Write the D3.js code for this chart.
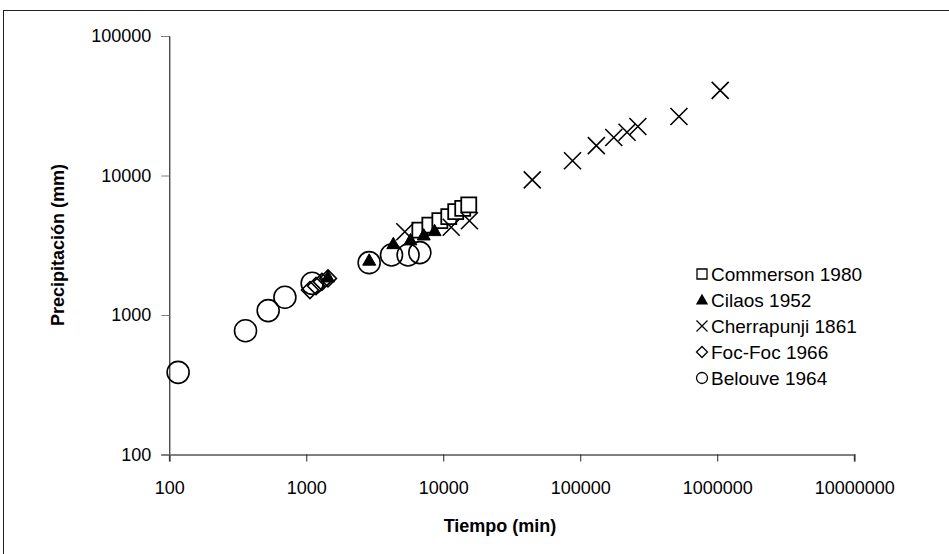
<!DOCTYPE html>
<html><head><meta charset="utf-8">
<script src="https://cdn.jsdelivr.net/npm/d3@7"></script>
<style>body{margin:0;background:#fff;}svg{display:block;font-family:"Liberation Sans",Arial,sans-serif;}</style>
</head><body>
<svg id="c" width="949" height="554"></svg>
<script>
// ---- data ----
const xTicks = [100, 1000, 10000, 100000, 1000000, 10000000];
const yTicks = [100, 1000, 10000, 100000];
const seriesNames = ["Commerson 1980", "Cilaos 1952", "Cherrapunji 1861", "Foc-Foc 1966", "Belouve 1964"];
const commerson = [[6745,4063],[7980,4415],[9440,4742],[10970,5067],[12330,5500],[13870,5820],[15350,6150]];
const cilaos = [[1440,1870],[2880,2467],[4320,3240],[5760,3450],[7200,3740],[8640,4018]];
const cherrapunji = [[5240,3953],[11430,4256],[15520,4742],[44640,9300],[87840,12767],[131040,16369],[175680,18738],[219600,20412],[263520,22454],[525600,26461],[1051200,40768]];
const focfoc = [[1064,1510],[1178,1614],[1300,1727],[1440,1830]];
const belouve = [[116,388],[360,771],[527,1075],[698,1340],[1104,1687],[2877,2372],[4190,2692],[5535,2692],[6745,2800]];
const xTitle = "Tiempo (min)";
const yTitle = "Precipitación (mm)";

const svg = d3.select("#c");
const x = d3.scaleLog().domain([100, 1e7]).range([169.3, 854.2]);
const y = d3.scaleLog().domain([100, 1e5]).range([454.5, 36]);

// outer frame
svg.append("rect").attr("x",3.5).attr("y",10.5).attr("width",1200).attr("height",1200)
  .attr("fill","none").attr("stroke","#222").attr("stroke-width",1);

// axes
const fmt = d => String(d);
const gx = svg.append("g").attr("transform","translate(0,454.5)")
  .call(d3.axisBottom(x).tickValues(xTicks).tickFormat(fmt).tickSize(7).tickPadding(20));
gx.select(".domain").attr("stroke","#808080").attr("stroke-width",2);
gx.selectAll(".tick line").attr("stroke","#222");
gx.selectAll("text").attr("font-size",18).attr("fill","#000");

const gy = svg.append("g").attr("transform","translate(169.3,0)")
  .call(d3.axisLeft(y).tickValues(yTicks).tickFormat(fmt).tickSize(8).tickPadding(10));
gy.select(".domain").attr("stroke","#000").attr("stroke-width",1);
gy.selectAll(".tick line").attr("stroke","#808080");
gy.selectAll("text").attr("font-size",18).attr("fill","#000");
gx.raise();

svg.append("text").attr("x",500).attr("y",532).attr("text-anchor","middle")
  .attr("font-size",18).attr("font-weight","bold").text(xTitle);
svg.append("text").attr("transform","translate(64,245) rotate(-90)").attr("text-anchor","middle")
  .attr("font-size",18).attr("font-weight","bold").text(yTitle);

// marker shapes
function sq(s){return `M${-s},${-s}H${s}V${s}H${-s}Z`;}
function tri(s){return `M0,${-s}L${s},${s*0.75}L${-s},${s*0.75}Z`;}
function cross(s){return `M${-s},${-s}L${s},${s}M${-s},${s}L${s},${-s}`;}
function dia(s){return `M0,${-s}L${s},0L0,${s}L${-s},0Z`;}

const plot = svg.append("g");
function draw(data, path, fill, sw){
  plot.append("g").selectAll("path").data(data).join("path")
    .attr("transform", d => `translate(${x(d[0])},${y(d[1])})`)
    .attr("d", path).attr("fill", fill).attr("stroke","#000").attr("stroke-width", sw);
}
draw(commerson, sq(7.5), "#fff", 1.8);
draw(cilaos, tri(6.5), "#000", 1);
draw(cherrapunji, cross(8.5), "none", 1.6);
draw(focfoc, dia(8.5), "none", 1.6);
plot.append("g").selectAll("circle").data(belouve).join("circle")
  .attr("cx", d => x(d[0])).attr("cy", d => y(d[1])).attr("r", 11)
  .attr("fill","none").attr("stroke","#000").attr("stroke-width",1.6);

// legend
const legPaths = [sq(5), tri(5), cross(5.5), dia(5.5), null];
const legFill = ["#fff","#000","none","none","none"];
const lg = svg.append("g");
seriesNames.forEach((n,i) => {
  const yy = 274 + i*26;
  if (legPaths[i]) lg.append("path").attr("transform",`translate(702,${yy})`).attr("d",legPaths[i])
      .attr("fill",legFill[i]).attr("stroke","#000").attr("stroke-width",1.3);
  else lg.append("circle").attr("cx",702).attr("cy",yy).attr("r",5.5).attr("fill","none").attr("stroke","#000").attr("stroke-width",1.3);
  lg.append("text").attr("x",711).attr("y",yy+6.5).attr("font-size",19).text(n);
});
</script>
</body></html>
